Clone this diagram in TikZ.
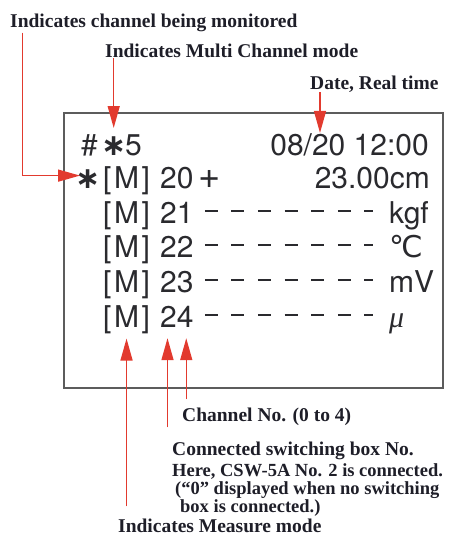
\documentclass[tikz,border=0pt]{standalone}
\usepackage{fontspec}
\setmainfont{Liberation Serif}
\newfontfamily\lcdfont{TeX Gyre Heros}
\newfontfamily\symfont{DejaVu Sans}
\usepackage{xcolor}
\definecolor{calloutRed}{HTML}{E23A2E}
\definecolor{lcdInk}{HTML}{2A2A2E}
\definecolor{panelLine}{HTML}{5C5C5C}
\definecolor{labelInk}{HTML}{1E1E28}
\usetikzlibrary{arrows.meta}

\begin{document}
\begin{tikzpicture}[x=1pt, y=-1pt,
  lbl/.style={font=\fontsize{19.5}{21}\selectfont\bfseries, text=labelInk, inner sep=0pt, anchor=base west},
  lcd/.style={font=\lcdfont\fontsize{30}{34}\selectfont, text=lcdInk, inner sep=0pt, anchor=base west},
  callout/.style={draw=calloutRed, line width=1.4pt, -{Triangle[length=22pt, width=12pt]}}]
  \useasboundingbox (0,0) rectangle (471,535);
  % display panel
  \draw[panelLine, line width=1.5pt] (64,113) rectangle (443,388);

  % header row
  \node[lcd] (hash) at (81,155) {\#};
  \node[lcd] (ast1) at (106,155) {\makebox[15pt]{\symfont\bfseries ∗}};
  \node[lcd] (five) at (125,155) {5};
  \node[lcd, anchor=base east] (clock) at (429,155) {08/20 12:00};

  % monitored channel
  \node[lcd] (ast2) at (80,188) {\makebox[15pt]{\symfont\bfseries ∗}};
  \node[lcd] (m20) at (103,188) {[\kern2.5pt M\kern2.5pt]};
  \node[lcd] (ch20) at (160,188) {20};
  \node[lcd] (sign20) at (198,188) {\fontsize{38}{40}\selectfont +};
  \node[lcd, anchor=base east] (val20) at (430,188) {23.00cm};

  % idle channels
  \foreach \ch/\unit/\y in {21/kgf/223, 22/{\symfont ℃}/257, 23/mV/292, 24/{\rmfamily\itshape μ}/327}{
    \node[lcd] (m\ch) at (103,\y) {[\kern2.5pt M\kern2.5pt]};
    \node[lcd] (ch\ch) at (160,\y) {\ch};
    \node[lcd] (u\ch) at (389,\y) {\unit};
    \draw[lcdInk, line width=2pt, dash pattern=on 13pt off 13.6pt]
      ([xshift=11pt, yshift=12pt]ch\ch.base east) -- ([xshift=-16pt, yshift=12pt]u\ch.base west);
  }

  % labels
  \node[lbl] (mon) at (10,28) {Indicates channel being monitored};
  \node[lbl] (multi) at (105,58) {Indicates Multi Channel mode};
  \node[lbl] (date) at (310,89) {Date, Real time};
  \node[lbl] (chan) at (182,421) {Channel No. (0 to 4)};
  \node[lbl] (sbox) at (172,455) {Connected switching box No.};
  \node[lbl, anchor=north west, align=left, font=\fontsize{18.5}{18}\selectfont\bfseries] (note) at (172,463)
    {Here, CSW-5A No. 2 is connected.\\\hspace*{3pt}(“0” displayed when no switching\\\hspace*{8pt}box is connected.)};
  \node[lbl] (meas) at (118,532) {Indicates Measure mode};

  % callouts
  \draw[callout] ([xshift=12.5pt]mon.south west) |- ([yshift=3pt]ast2.west);
  \draw[callout] (ast1.north |- multi.south) -- ([yshift=8pt]ast1.north);
  \draw[callout] ([xshift=10pt]date.south west) -- ([xshift=10pt]date.south west |- clock.north);
  \draw[callout] (m24.south |- meas.north) ++(0,-12) -- ([yshift=-5pt]m24.south);
  \draw[callout] ([xshift=7.5pt]ch24.south west |- sbox.north) ++(0,-14) -- ([xshift=7.5pt, yshift=-11pt]ch24.south west);
  \draw[callout] ([xshift=-7.5pt]ch24.south east |- chan.north) ++(0,-8) -- ([xshift=-7.5pt, yshift=-11pt]ch24.south east);
\end{tikzpicture}
\end{document}
